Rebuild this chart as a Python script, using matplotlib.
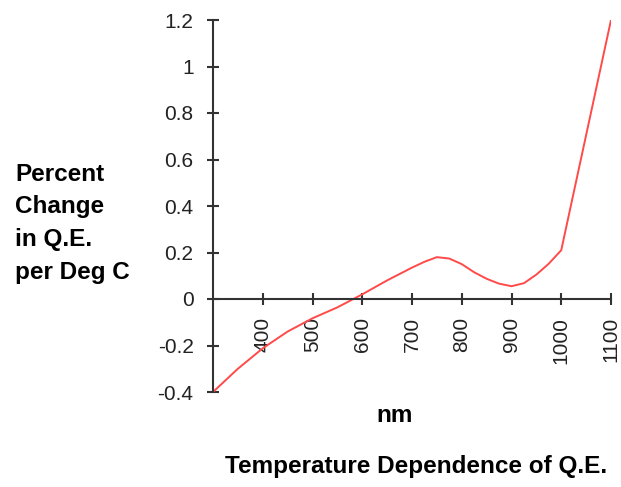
import numpy as np
import matplotlib.pyplot as plt

plt.rcParams['font.family'] = ['Liberation Sans', 'DejaVu Sans']

# wavelength (nm) and percent change in Q.E. per deg C
wavelength = [300, 350, 400, 450, 500, 550, 600, 650, 700, 725, 750, 775, 800, 825, 850,
              875, 900, 925, 950, 975, 1000, 1100]
change = [-0.40, -0.30, -0.212, -0.14, -0.083, -0.036, 0.02, 0.08, 0.135, 0.16, 0.18, 0.174,
          0.15, 0.115, 0.087, 0.066, 0.055, 0.068, 0.105, 0.152, 0.21, 1.20]

xticks = [400, 500, 600, 700, 800, 900, 1000, 1100]
xtick_labels = ['400', '500', '600', '700', '800', '900', '1000', '1100']
yticks = [-0.4, -0.2, 0, 0.2, 0.4, 0.6, 0.8, 1, 1.2]
ytick_labels = ['-0.4', '-0.2', '0', '0.2', '0.4', '0.6', '0.8', '1', '1.2']
ylabel_lines = ['Percent', 'Change', 'in Q.E.', 'per Deg C']

W, H = 621, 487
fig = plt.figure(figsize=(W / 100, H / 100), dpi=100)
ax = fig.add_axes([213 / W, 1 - 392 / H, (611 - 213) / W, (392 - 20) / H])

ax.plot(wavelength, change, color='#ff4a4a', lw=1.4)

ax.set_xlim(300, 1100)
ax.set_ylim(-0.4, 1.2)

ax.spines['top'].set_visible(False)
ax.spines['right'].set_visible(False)
ax.spines['bottom'].set_position(('data', 0))
for s in ('left', 'bottom'):
    ax.spines[s].set_linewidth(1.5)
    ax.spines[s].set_color('#333333')

ax.set_xticks(xticks)
ax.set_xticklabels(xtick_labels, rotation=90, fontsize=15)
ax.set_yticks(yticks)
ax.set_yticklabels(ytick_labels, fontsize=15)
ax.tick_params(direction='inout', length=8, width=1.5, color='#333333', labelcolor='#222222')
ax.tick_params(axis='x', pad=9)
ax.tick_params(axis='y', pad=10)

# y label, one text per line
for i, line in enumerate(ylabel_lines):
    fig.text(15 / W, 1 - (174 + 32.7 * i) / H, line, fontsize=17.5, fontweight='bold',
             va='center', ha='left')
fig.text(395 / W, 1 - 415 / H, 'nm', fontsize=17.5, fontweight='bold', ha='center', va='center')
fig.text(416 / W, 1 - 466 / H, 'Temperature Dependence of Q.E.', fontsize=17.5, fontweight='bold',
         ha='center', va='center')

fig.savefig('out.png', dpi=100)
